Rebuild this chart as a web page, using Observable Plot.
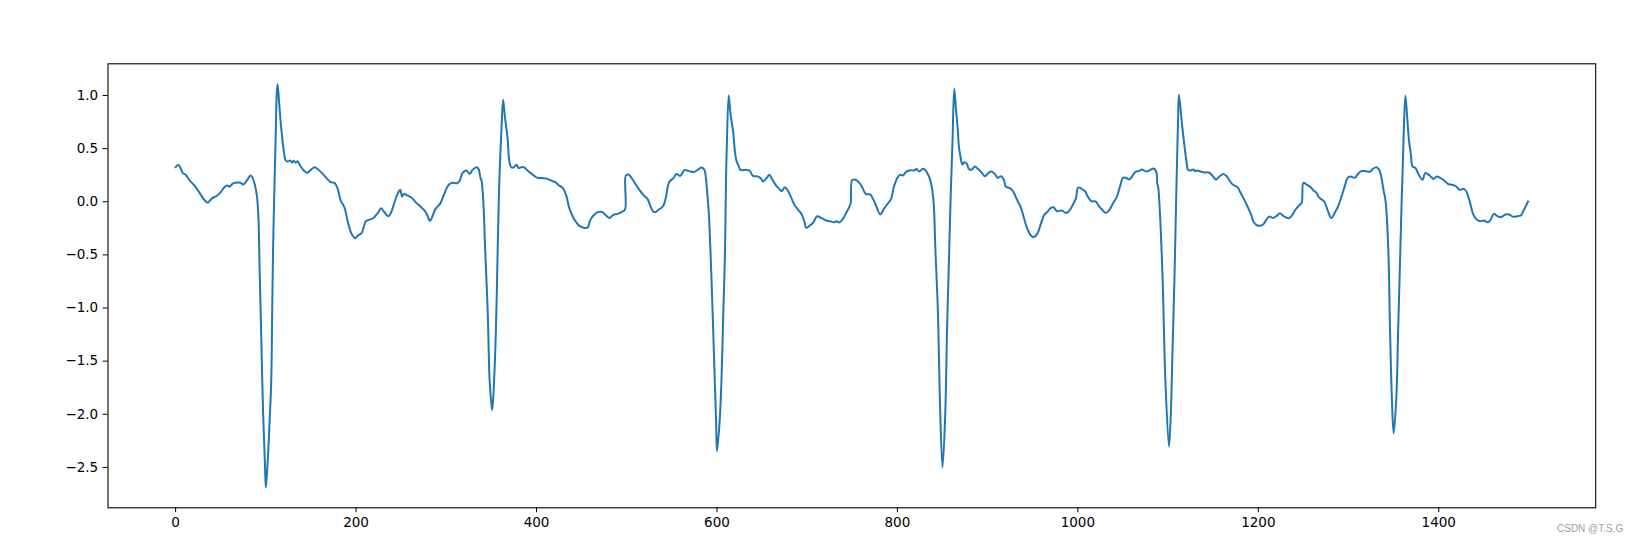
<!DOCTYPE html>
<html>
<head>
<meta charset="utf-8">
<script src="https://cdn.jsdelivr.net/npm/d3@7"></script>
<script src="https://cdn.jsdelivr.net/npm/@observablehq/plot@0.6"></script>
<style>
  html, body { margin: 0; padding: 0; background: #fff; overflow: hidden; }
  #wrap { position: relative; width: 1638px; height: 542px; }
  #wm { position: absolute; left: 1557px; top: 523px; font: 10px "Liberation Sans", Arial, sans-serif; color: #a0a0a0; white-space: nowrap; }
</style>
</head>
<body>
<div id="wrap"><div id="wm">CSDN @T.S.G</div></div>
<script>
// sample index (x) and signal value (y)
const sampleIndex = [
  0,3,5,8,11,15,21,26,31,35,37,41,45,50,54,57,60,63,66,72,75,79,83,85,88,90,91,92,93,94,95,97,99,100,
  102,104,106,107,108,109,110,111,112,113,115,117,120,122,124,127,129,131,133,135,138,142,146,149,154,157,
  163,168,172,176,179,183,187,191,195,199,202,206,211,215,219,224,228,230,236,239,242,246,249,251,253,257,
  262,266,271,276,279,282,285,288,293,297,300,303,307,312,315,318,322,326,329,334,336,338,339,341,343,346,
  348,350,351,353,355,357,358,359,361,363,365,368,370,372,375,378,380,383,386,390,396,401,407,412,418,421,
  425,429,433,436,440,444,448,453,457,459,463,468,473,477,481,485,490,494,498,499,502,506,510,514,519,523,
  526,529,532,535,540,543,547,552,555,559,564,569,575,579,583,586,588,590,591,594,597,599,600,603,605,607,
  609,610,611,613,615,618,620,622,624,626,632,636,640,646,649,651,655,658,661,665,669,672,675,679,682,686,
  690,694,697,699,703,707,711,716,721,725,730,733,735,739,743,748,750,755,760,765,770,773,777,781,785,789,
  793,796,800,803,806,810,815,819,821,824,828,830,834,837,840,842,845,847,850,853,855,857,859,861,863,865,
  867,868,870,872,874,877,879,882,886,889,893,897,901,904,908,911,915,918,920,924,927,930,933,937,940,944,
  948,951,955,959,963,966,970,973,977,982,987,990,994,998,1000,1003,1005,1008,1011,1015,1020,1023,1027,1031,
  1035,1039,1043,1047,1050,1053,1057,1060,1064,1068,1071,1076,1081,1084,1087,1088,1089,1091,1094,1097,1101,
  1103,1105,1107,1109,1110,1111,1112,1115,1117,1119,1121,1122,1125,1128,1130,1132,1136,1141,1145,1149,1153,
  1156,1161,1165,1168,1172,1177,1180,1184,1188,1192,1195,1199,1203,1206,1209,1212,1216,1220,1224,1228,1234,
  1238,1241,1245,1248,1250,1254,1258,1262,1264,1267,1273,1277,1281,1285,1288,1292,1296,1299,1302,1307,1310,
  1314,1319,1324,1327,1331,1334,1336,1337,1339,1341,1344,1346,1348,1350,1353,1355,1357,1359,1360,1361,1363,
  1365,1367,1369,1371,1374,1377,1382,1385,1390,1394,1398,1402,1406,1410,1415,1419,1423,1428,1431,1435,1438,
  1442,1446,1450,1454,1457,1461,1465,1469,1474,1478,1482,1487,1491,1494,1499
];
const signal = [
  0.325,0.347,0.325,0.269,0.256,0.206,0.152,0.090,0.027,-0.008,0.002,0.036,0.052,0.090,0.137,0.152,0.143,0.168,0.178,0.178,0.162,0.200,0.247,0.231,0.152,0.060,-0.03,-0.20,-0.60,-0.95,-1.30,-2.00,-2.47,-2.69,
  -2.45,-2.10,-1.68,-1.05,-0.45,-0.05,0.30,0.65,1.00,1.108,0.90,0.70,0.47,0.39,0.378,0.388,0.369,0.385,0.366,0.382,0.341,0.294,0.272,0.294,0.325,0.310,
  0.262,0.215,0.184,0.178,0.137,0.011,-0.052,-0.193,-0.302,-0.343,-0.318,-0.296,-0.183,-0.168,-0.155,-0.108,-0.061,-0.083,-0.136,-0.098,-0.020,0.074,0.112,0.049,0.074,0.058,
  0.036,-0.004,-0.042,-0.083,-0.130,-0.180,-0.130,-0.067,-0.020,0.058,0.121,0.162,0.178,0.174,0.200,0.269,0.294,0.262,0.300,0.325,0.303,0.22,0.20,0.01,-0.43,-1.06,
  -1.68,-1.90,-1.96,-1.68,-1.21,-0.43,-0.05,0.25,0.65,0.959,0.796,0.592,0.372,0.325,0.325,0.347,0.316,0.325,0.325,0.294,0.253,0.225,0.222,0.215,0.193,0.184,
  0.152,0.130,0.058,-0.052,-0.136,-0.193,-0.230,-0.246,-0.240,-0.183,-0.130,-0.098,-0.098,-0.130,-0.152,-0.124,-0.114,-0.098,-0.076,0.247,0.256,0.215,0.162,0.112,0.058,0.027,
  -0.036,-0.089,-0.098,-0.076,-0.045,0.027,0.184,0.225,0.262,0.243,0.297,0.288,0.281,0.303,0.322,0.300,0.20,0.0,-0.11,-0.742,-1.53,-2.06,-2.345,-2.06,-1.68,-1.06,
  -0.43,0.20,0.55,1.0,0.827,0.655,0.466,0.372,0.341,0.300,0.300,0.294,0.243,0.237,0.215,0.190,0.222,0.253,0.215,0.159,0.121,0.099,0.137,0.099,0.043,-0.030,
  -0.076,-0.120,-0.193,-0.246,-0.224,-0.193,-0.136,-0.155,-0.177,-0.183,-0.193,-0.183,-0.196,-0.168,-0.108,-0.020,0.206,0.200,0.152,0.074,0.068,0.027,-0.052,-0.120,-0.067,-0.020,
  0.027,0.137,0.225,0.253,0.247,0.284,0.297,0.294,0.310,0.284,0.310,0.306,0.256,0.184,0.01,-0.43,-1.06,-1.84,-2.50,-2.0,-1.21,-0.585,0.043,0.55,1.063,0.859,
  0.67,0.529,0.419,0.350,0.372,0.356,0.310,0.300,0.331,0.310,0.278,0.240,0.272,0.284,0.262,0.225,0.240,0.206,0.143,0.130,0.112,0.068,0.011,-0.058,-0.146,-0.255,
  -0.318,-0.334,-0.302,-0.208,-0.120,-0.098,-0.058,-0.052,-0.089,-0.083,-0.105,-0.089,-0.036,0.036,0.130,0.130,0.115,0.099,0.049,0.005,0.002,-0.036,-0.076,-0.105,
  -0.076,-0.014,0.043,0.152,0.225,0.225,0.209,0.237,0.284,0.288,0.303,0.284,0.303,0.313,0.278,0.17,0.14,-0.114,-0.742,-1.68,-2.305,
  -2.0,-1.37,-0.742,0.043,0.40,0.75,1.006,0.765,0.608,0.466,0.341,0.300,0.294,0.303,0.288,0.294,0.284,0.275,0.275,0.247,0.209,
  0.231,0.262,0.240,0.200,0.159,0.137,0.090,0.027,-0.045,-0.120,-0.193,-0.224,-0.224,-0.208,-0.168,-0.140,-0.152,-0.136,-0.108,-0.136,-0.155,
  -0.120,-0.076,-0.036,-0.011,0.178,0.159,0.137,0.099,0.090,0.043,0.002,-0.083,-0.155,-0.098,-0.052,0.043,0.152,0.225,0.237,0.225,0.256,
  0.288,0.288,0.284,0.310,0.325,0.300,0.247,0.20,0.10,0.01,-0.43,-1.21,-1.84,-2.18,-1.84,-1.21,-0.585,0.043,0.30,0.60,1.0,
  0.796,0.576,0.451,0.331,0.319,0.269,0.206,0.269,0.247,0.215,0.237,0.222,0.200,0.168,0.159,0.146,0.112,0.121,0.090,-0.020,-0.114,
  -0.168,-0.183,-0.177,-0.193,-0.177,-0.114,-0.136,-0.146,-0.120,-0.120,-0.140,-0.136,-0.130,-0.083,0.002
];
const xTicks = [0, 200, 400, 600, 800, 1000, 1200, 1400];
const yTicks = [-2.5, -2.0, -1.5, -1.0, -0.5, 0.0, 0.5, 1.0];

const data = sampleIndex.map((t, i) => ({t, v: signal[i]}));

const n = 1500;
const xPad = (n - 1) * 0.05;
const vMin = d3.min(signal), vMax = d3.max(signal);
const yPad = (vMax - vMin) * 0.05;

const chart = Plot.plot({
  width: 1638,
  height: 542,
  marginLeft: 107.5,
  marginRight: 42.8,
  marginTop: 63.3,
  marginBottom: 34.7,
  style: "font-family: 'DejaVu Sans', sans-serif; font-size: 13.5px; color: #000; background: #fff; overflow: visible;",
  x: {
    domain: [-xPad, n - 1 + xPad],
    ticks: xTicks,
    tickSize: 4.9,
    tickPadding: 4.9,
    tickFormat: d3.format("d"),
    label: null
  },
  y: {
    domain: [vMin - yPad, vMax + yPad],
    ticks: yTicks,
    tickSize: 4.9,
    tickPadding: 4.9,
    tickFormat: d3.format(".1f"),
    label: null
  },
  marks: [
    Plot.line(data, {x: "t", y: "v", curve: "catmull-rom", stroke: "#1f77b4", strokeWidth: 2, strokeLinejoin: "round", strokeLinecap: "square"}),
    Plot.frame({stroke: "#000", strokeWidth: 1.1})
  ]
});
document.getElementById("wrap").prepend(chart);
</script>
</body>
</html>
